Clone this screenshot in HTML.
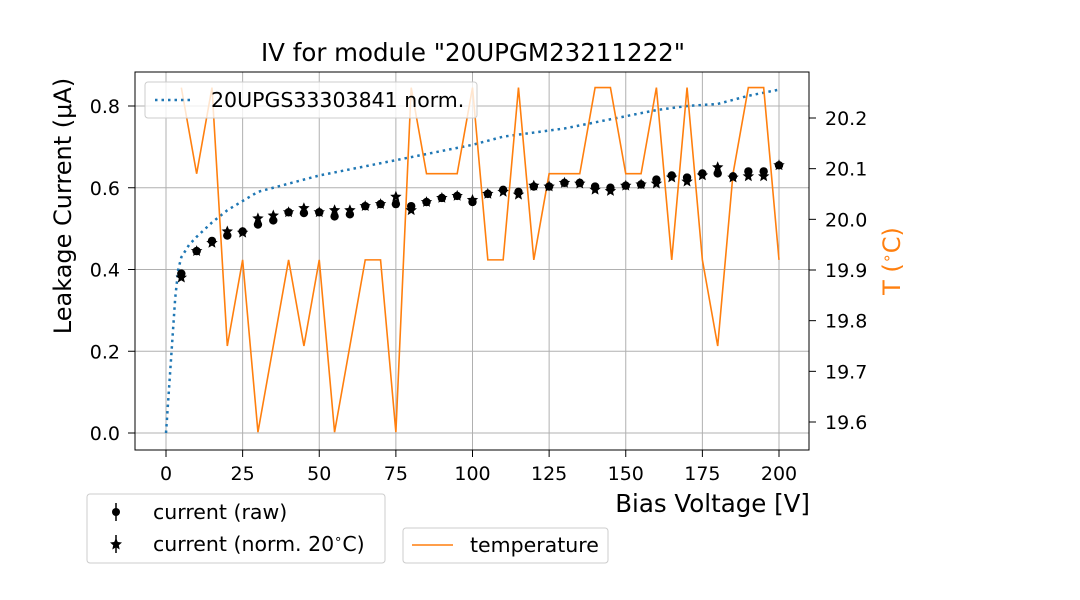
<!DOCTYPE html>
<html><head><meta charset="utf-8"><style>
html,body{margin:0;padding:0;background:#fff;}
svg{display:block;font-family:"DejaVu Sans","Liberation Sans",sans-serif;}
</style></head><body>
<svg id="chart" width="1080" height="600" viewBox="0 0 1080 600" xmlns="http://www.w3.org/2000/svg">
<rect width="1080" height="600" fill="#fff"/>
<g id="grid"></g>
<g id="series"></g>
<rect x="135" y="72" width="674" height="378" fill="none" stroke="#000" stroke-width="1"/>
<g id="axes"></g>
<text x="473" y="61" font-size="24.5" text-anchor="middle">IV for module "20UPGM23211222"</text>
<text x="810" y="512" font-size="24.5" text-anchor="end">Bias Voltage [V]</text>
<text transform="translate(71,206) rotate(-90)" font-size="24" text-anchor="middle">Leakage Current (μA)</text>
<text transform="translate(900,261) rotate(-90)" font-size="24" fill="#ff7f0e" text-anchor="middle">T (<tspan font-size="16" dy="-8">∘</tspan><tspan dy="8">C)</tspan></text>
<g>
<rect x="145" y="82" width="332" height="36" rx="3" fill="#fff" fill-opacity="0.8" stroke="#ccc"/>
<line x1="155" y1="100" x2="193" y2="100" stroke="#1f77b4" stroke-width="2.5" stroke-dasharray="2.5,4"/>
<text x="211" y="107" font-size="20.5">20UPGS33303841 norm.</text>
</g>
<g>
<rect x="87" y="494" width="298" height="69" rx="3" fill="#fff" stroke="#ccc"/>
<line x1="116" y1="503" x2="116" y2="521" stroke="#000" stroke-width="1.5"/>
<circle cx="116" cy="512" r="4" fill="#000"/>
<text x="153" y="519" font-size="20.5">current (raw)</text>
<line x1="116" y1="535" x2="116" y2="553" stroke="#000" stroke-width="1.5"/>
<polygon points="116,538 117.8,542 122,542.5 118.8,545.3 119.7,549.5 116,547.3 112.3,549.5 113.2,545.3 110,542.5 114.2,542" fill="#000"/>
<text x="153" y="551" font-size="20.5">current (norm. 20<tspan font-size="13" dy="-8">∘</tspan><tspan dy="8">C)</tspan></text>
</g>
<g>
<rect x="403" y="528" width="205" height="35" rx="3" fill="#fff" stroke="#ccc"/>
<line x1="412" y1="545" x2="453" y2="545" stroke="#ff7f0e" stroke-width="1.6"/>
<text x="470" y="552" font-size="20.5">temperature</text>
</g>
</svg>
<script>
const voltages=[5,10,15,20,25,30,35,40,45,50,55,60,65,70,75,80,85,90,95,100,105,110,115,120,125,130,135,140,145,150,155,160,165,170,175,180,185,190,195,200];
const currentRaw=[0.39,0.445,0.47,0.483,0.493,0.51,0.52,0.54,0.538,0.54,0.53,0.535,0.555,0.56,0.56,0.555,0.565,0.575,0.58,0.565,0.585,0.595,0.59,0.603,0.603,0.612,0.612,0.603,0.6,0.605,0.608,0.62,0.63,0.625,0.635,0.635,0.628,0.64,0.64,0.655];
const currentNorm=[0.38,0.445,0.465,0.493,0.49,0.525,0.532,0.54,0.55,0.54,0.545,0.545,0.555,0.56,0.578,0.545,0.565,0.575,0.58,0.57,0.585,0.59,0.583,0.605,0.603,0.612,0.61,0.595,0.592,0.605,0.608,0.61,0.625,0.615,0.63,0.65,0.625,0.628,0.628,0.655];
const temperature=[20.26,20.09,20.26,19.75,19.92,19.58,19.75,19.92,19.75,19.92,19.58,19.75,19.92,19.92,19.58,20.26,20.09,20.09,20.09,20.26,19.92,19.92,20.26,19.92,20.09,20.09,20.09,20.26,20.26,20.09,20.09,20.26,19.92,20.26,19.92,19.75,20.09,20.26,20.26,19.92];
const refV=[0,2,3,4,5,7.5,10,15,20,30,40,50,60,70,80,90,100,110,120,130,140,150,160,170,180,190,200];
const refI=[0,0.22,0.33,0.4,0.43,0.46,0.48,0.515,0.545,0.59,0.61,0.63,0.645,0.66,0.675,0.69,0.705,0.725,0.735,0.745,0.76,0.775,0.79,0.8,0.805,0.825,0.84];
const xTicks=[0,25,50,75,100,125,150,175,200];
const yTicks=[0.0,0.2,0.4,0.6,0.8];
const y2Ticks=[19.6,19.7,19.8,19.9,20.0,20.1,20.2];

const NS="http://www.w3.org/2000/svg";
const X=v=>166+v*(779-166)/200;
const Y=v=>433-v*(433-106)/0.8;
const Y2=t=>422-(t-19.6)*(422-118)/0.6;
function mk(tag,attrs,parent){const e=document.createElementNS(NS,tag);for(const k in attrs)e.setAttribute(k,attrs[k]);parent.appendChild(e);return e;}
const grid=document.getElementById('grid'),axes=document.getElementById('axes'),series=document.getElementById('series');
xTicks.forEach(t=>{
 const g=mk('line',{x1:X(t),x2:X(t),y1:72,y2:450,stroke:'#b0b0b0','stroke-width':1},grid);
 
 
 mk('line',{x1:X(t),x2:X(t),y1:450,y2:457,stroke:'#000'},axes);
 const l=mk('text',{x:X(t),y:480,'font-size':19,'text-anchor':'middle'},axes);l.textContent=t;
 
 
});
yTicks.forEach(t=>{
 const g=mk('line',{x1:135,x2:809,y1:Y(t),y2:Y(t),stroke:'#b0b0b0','stroke-width':1},grid);
 
 
 mk('line',{x1:128,x2:135,y1:Y(t),y2:Y(t),stroke:'#000'},axes);
 const l=mk('text',{x:120,y:Y(t)+7,'font-size':19,'text-anchor':'end'},axes);l.textContent=t.toFixed(1);
 
 
});
y2Ticks.forEach(t=>{
 mk('line',{x1:809,x2:816,y1:Y2(t),y2:Y2(t),stroke:'#000'},axes);
 const l=mk('text',{x:825,y:Y2(t)+7,'font-size':19},axes);l.textContent=t.toFixed(1);
 
 
});
const ref=mk('polyline',{points:refV.map((v,i)=>X(v)+','+Y(refI[i])).join(' '),fill:'none',stroke:'#1f77b4','stroke-width':2.5,'stroke-dasharray':'2.5,4'},series);


const tl=mk('polyline',{points:voltages.map((v,i)=>X(v)+','+Y2(temperature[i])).join(' '),fill:'none',stroke:'#ff7f0e','stroke-width':1.6},series);


function star(cx,cy,r){let p=[];for(let i=0;i<10;i++){const a=-Math.PI/2+i*Math.PI/5,rr=i%2?r*0.45:r;p.push((cx+rr*Math.cos(a)).toFixed(1)+','+(cy+rr*Math.sin(a)).toFixed(1));}return p.join(' ');}
voltages.forEach((v,i)=>{
 const c=mk('circle',{cx:X(v),cy:Y(currentRaw[i]),r:4.2,fill:'#000'},series);
 
 
 const s=mk('polygon',{points:star(X(v),Y(currentNorm[i]),6),fill:'#000'},series);
 
 
});
</script>
</body></html>
